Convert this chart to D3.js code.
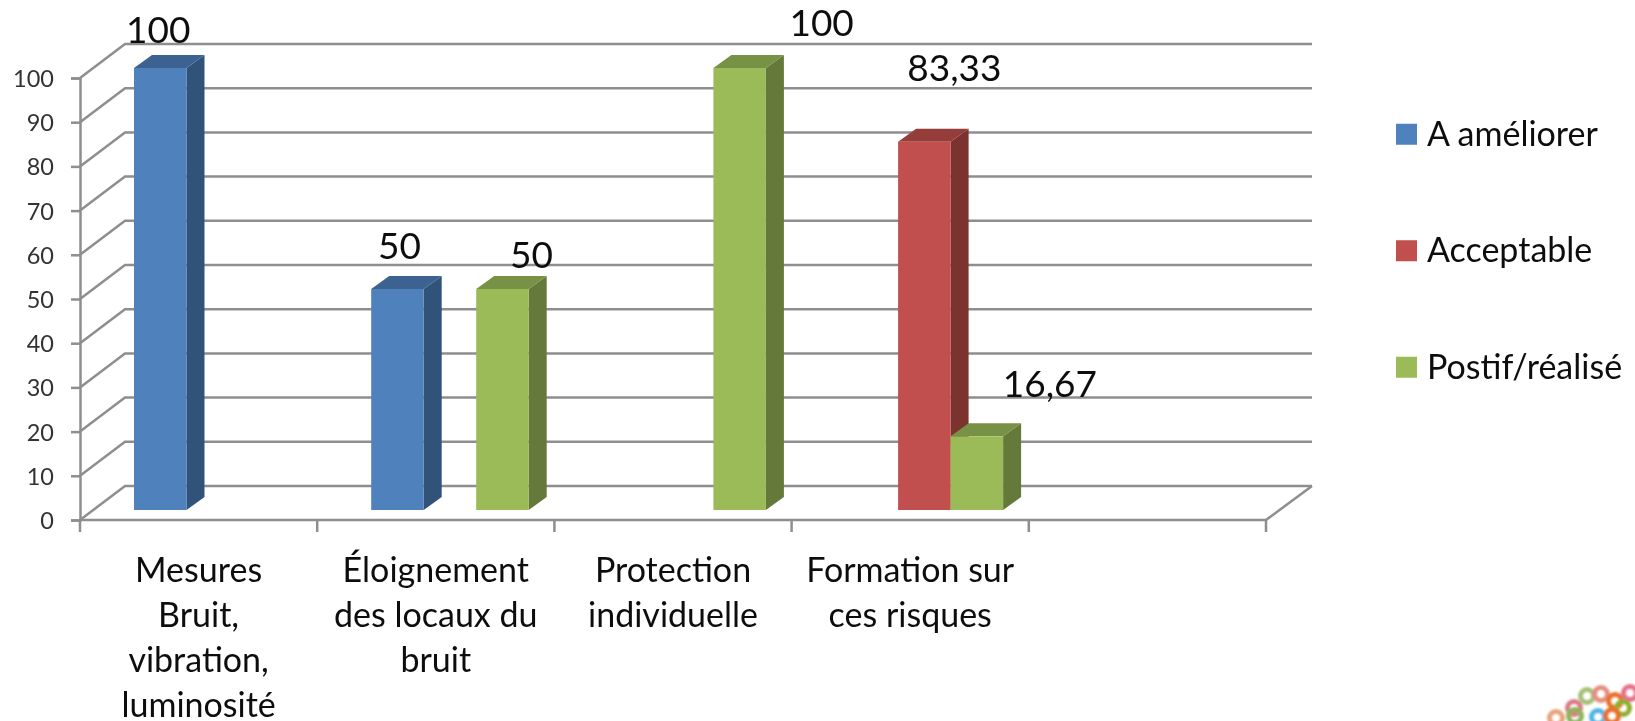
<!DOCTYPE html>
<html><head><meta charset="utf-8">
<script src="https://cdn.jsdelivr.net/npm/d3@7/dist/d3.min.js"></script>
<style>html,body{margin:0;background:#fff;overflow:hidden}svg{display:block}text{font-family:Lato,"Noto Sans",sans-serif}</style>
</head><body><svg id="c" width="1635" height="721"></svg>
<script>
const categories=[["Mesures","Bruit,","vibration,","luminosité"],["Éloignement","des locaux du","bruit"],["Protection","individuelle"],["Formation sur","ces risques"],[]];
const seriesNames=["A améliorer","Acceptable","Postif/réalisé"];
const aAmeliorer=[100,50,null,null];
const acceptable=[null,null,null,83.33];
const positif=[null,50,100,16.67];
const valueTicks=[0,10,20,30,40,50,60,70,80,90,100];
const valueLabels=["100","50","50","100","83,33","16,67"];
const colors=["#4F81BD","#C0504D","#9BBB59"];
const sideColors=["#305279","#7C322F","#65793A"];
const topColors=["#3B6291","#953E3B","#779145"];

const svg=d3.select("#c");
const y=d3.scaleLinear().domain([0,100]).range([520,78]);
const x=d3.scaleBand().domain(d3.range(5)).range([80,1266]);
const depth={dx:45,dy:-34}, barDepth={dx:18,dy:-13};
const grid="#8E8E8E", gridW=2.5;
const defs=svg.append("defs");
defs.append("filter").attr("id","soft").append("feGaussianBlur").attr("stdDeviation",0.45);
defs.append("filter").attr("id","softer").append("feGaussianBlur").attr("stdDeviation",1.1);
const g=svg.append("g").attr("filter","url(#soft)");

valueTicks.forEach(v=>{
  g.append("path").attr("fill","none").attr("stroke",grid).attr("stroke-width",gridW)
   .attr("d",d3.line()([[x.range()[0],y(v)],[x.range()[0]+depth.dx,y(v)+depth.dy],[1312,y(v)+depth.dy]]));
});
g.append("line").attr("x1",1266).attr("y1",520).attr("x2",1266+depth.dx+1).attr("y2",520+depth.dy).attr("stroke",grid).attr("stroke-width",gridW);
const yAxis=d3.axisLeft(y).tickValues(valueTicks).tickSize(9).tickPadding(17);
const yG=g.append("g").attr("transform","translate(80,0)").call(yAxis);
yG.select(".domain").attr("stroke",grid).attr("stroke-width",gridW);
yG.selectAll(".tick line").attr("stroke",grid).attr("stroke-width",gridW);
yG.selectAll("text").style("font-size","23.5px").style("font-family","Lato").attr("fill","#333").attr("dy","0.36em");
g.append("line").attr("x1",80).attr("x2",1266).attr("y1",520).attr("y2",520).attr("stroke",grid).attr("stroke-width",gridW);
const xTickPos=[...x.domain().map(d=>x(d)),x.range()[1]];
g.selectAll(".xt").data(xTickPos).enter().append("line").attr("x1",d=>d).attr("x2",d=>d).attr("y1",520).attr("y2",532).attr("stroke",grid).attr("stroke-width",gridW);

const bw=52.5, lead=54, baseY=y(0)-10;
const h=v=>y(0)-y(v);
const series=[aAmeliorer,acceptable,positif];
const bars=[];
series.forEach((vals,s)=>vals.forEach((v,c)=>{if(v!=null)bars.push({s,c,v});}));
bars.sort((a,b)=>a.c-b.c||a.s-b.s);
const bg=g.selectAll(".bar").data(bars).enter().append("g").attr("class","bar");
const X0=d=>x(d.c)+lead+d.s*bw, T=d=>baseY-h(d.v);
bg.append("path").attr("fill",d=>sideColors[d.s]).attr("d",d=>d3.line()([[X0(d)+bw,T(d)],[X0(d)+bw+barDepth.dx,T(d)+barDepth.dy],[X0(d)+bw+barDepth.dx,baseY+barDepth.dy],[X0(d)+bw,baseY]])+"Z");
bg.append("path").attr("fill",d=>topColors[d.s]).attr("d",d=>d3.line()([[X0(d),T(d)],[X0(d)+barDepth.dx,T(d)+barDepth.dy],[X0(d)+bw+barDepth.dx,T(d)+barDepth.dy],[X0(d)+bw,T(d)]])+"Z");
bg.append("rect").attr("x",X0).attr("y",T).attr("width",bw).attr("height",d=>h(d.v)).attr("fill",d=>colors[d.s]);

const nudge=[[-2,-25],[2,-30],[29,-21],[82,-32],[30,-61],[73,-39]];
g.selectAll(".vl").data(bars).enter().append("text").attr("class","vl")
  .attr("x",(d,i)=>X0(d)+bw/2+nudge[i][0]).attr("y",(d,i)=>T(d)+nudge[i][1])
  .attr("text-anchor","middle").attr("font-size",37).attr("fill","#111").text((d,i)=>valueLabels[i]);

categories.forEach((lines,c)=>{
  const t=g.append("text").attr("text-anchor","middle").attr("font-size",34).attr("fill","#111");
  lines.forEach((l,i)=>t.append("tspan").attr("x",x(c)+x.bandwidth()/2).attr("y",582+i*45).text(l));
});

const leg=d3.scaleBand().domain(seriesNames).range([76,425.5]);
const lg=g.selectAll(".lg").data(seriesNames).enter().append("g").attr("class","lg").attr("transform",d=>`translate(1396,${leg(d)+leg.bandwidth()/2-10.5})`);
lg.append("rect").attr("width",21).attr("height",21).attr("fill",(d,i)=>colors[i]);
lg.append("text").attr("x",31).attr("y",22).attr("font-size",34).attr("fill","#111").text(d=>d);

// decorative logo fragment, bottom-right corner
const logoRings=[[1556,718,"#E8A27C"],[1574,708,"#DC7A86"],[1575,716,"#8DB45A"],[1587,696,"#A5C078"],[1601,694,"#E58E80"],[1615,701,"#E8702A"],[1630,693,"#E8708A"],[1623,708,"#8FAE2E"],[1598,717,"#4FB4E8"],[1612,716,"#E8702A"]];
svg.append("g").attr("filter","url(#softer)").selectAll("circle").data(logoRings).enter().append("circle")
  .attr("cx",d=>d[0]).attr("cy",d=>d[1]).attr("r",6.5).attr("fill","none").attr("stroke",d=>d[2]).attr("stroke-width",5);
</script></body></html>
